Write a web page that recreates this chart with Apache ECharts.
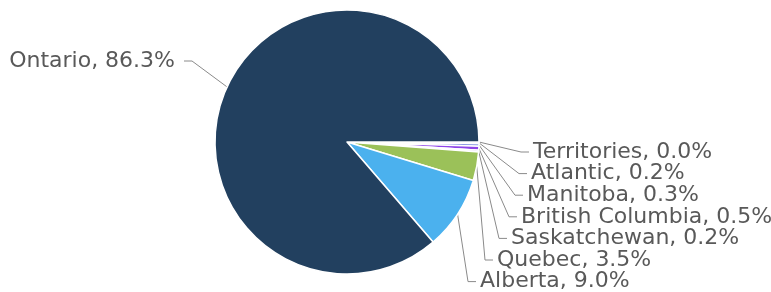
<!DOCTYPE html>
<html>
<head>
<meta charset="utf-8">
<script src="https://cdn.jsdelivr.net/npm/echarts@6/dist/echarts.min.js"></script>
<style>
html, body { margin: 0; padding: 0; background: #fff; }
#chart { width: 771px; height: 292px; }
</style>
</head>
<body>
<div id="chart"></div>
<script>
var regions = ['Territories', 'Atlantic', 'Manitoba', 'British Columbia', 'Saskatchewan', 'Quebec', 'Alberta', 'Ontario'];
var shares = [0.0, 0.2, 0.3, 0.5, 0.2, 3.5, 9.0, 86.3];
var colors = ['#6e7074', '#c9d4e8', '#5a6fd8', '#8e44e8', '#c7a8f0', '#9bc159', '#4bb1ee', '#22405f'];

// label placement for the stacked labels on the right
var labelLeft = [533, 531, 527, 521, 511, 497, 480];
var labelTop = 152, labelStep = 21.6;

var data = regions.map(function (name, i) {
    return { name: name, value: shares[i], itemStyle: { color: colors[i] } };
});

var myChart = echarts.init(document.getElementById('chart'));
myChart.setOption({
    animation: false,
    series: [
        {
            type: 'pie',
            center: [347, 142],
            radius: 132,
            startAngle: 0,
            clockwise: true,
            minShowLabelAngle: 0,
            itemStyle: { borderColor: '#fff', borderWidth: 1.5 },
            label: {
                show: true,
                overflow: 'none',
                formatter: function (p) { return p.name + ', ' + p.value.toFixed(1) + '%'; },
                fontFamily: 'DejaVu Sans',
                fontSize: 22,
                color: '#595959'
            },
            labelLine: {
                show: true,
                length: 40,
                length2: 10,
                lineStyle: { color: '#8a8a8a', width: 1 }
            },
            labelLayout: function (params) {
                var i = params.dataIndex;
                var start = params.labelLinePoints[0];
                if (i === regions.length - 1) {
                    return {
                        x: 175, y: 61, align: 'right', verticalAlign: 'middle',
                        labelLinePoints: [start, [192, 61], [184, 61]]
                    };
                }
                var y = labelTop + i * labelStep;
                var x = labelLeft[i];
                return {
                    x: x, y: y, align: 'left', verticalAlign: 'middle',
                    labelLinePoints: [start, [x - 12, y], [x - 4, y]]
                };
            },
            data: data
        }
    ]
});
</script>
</body>
</html>
